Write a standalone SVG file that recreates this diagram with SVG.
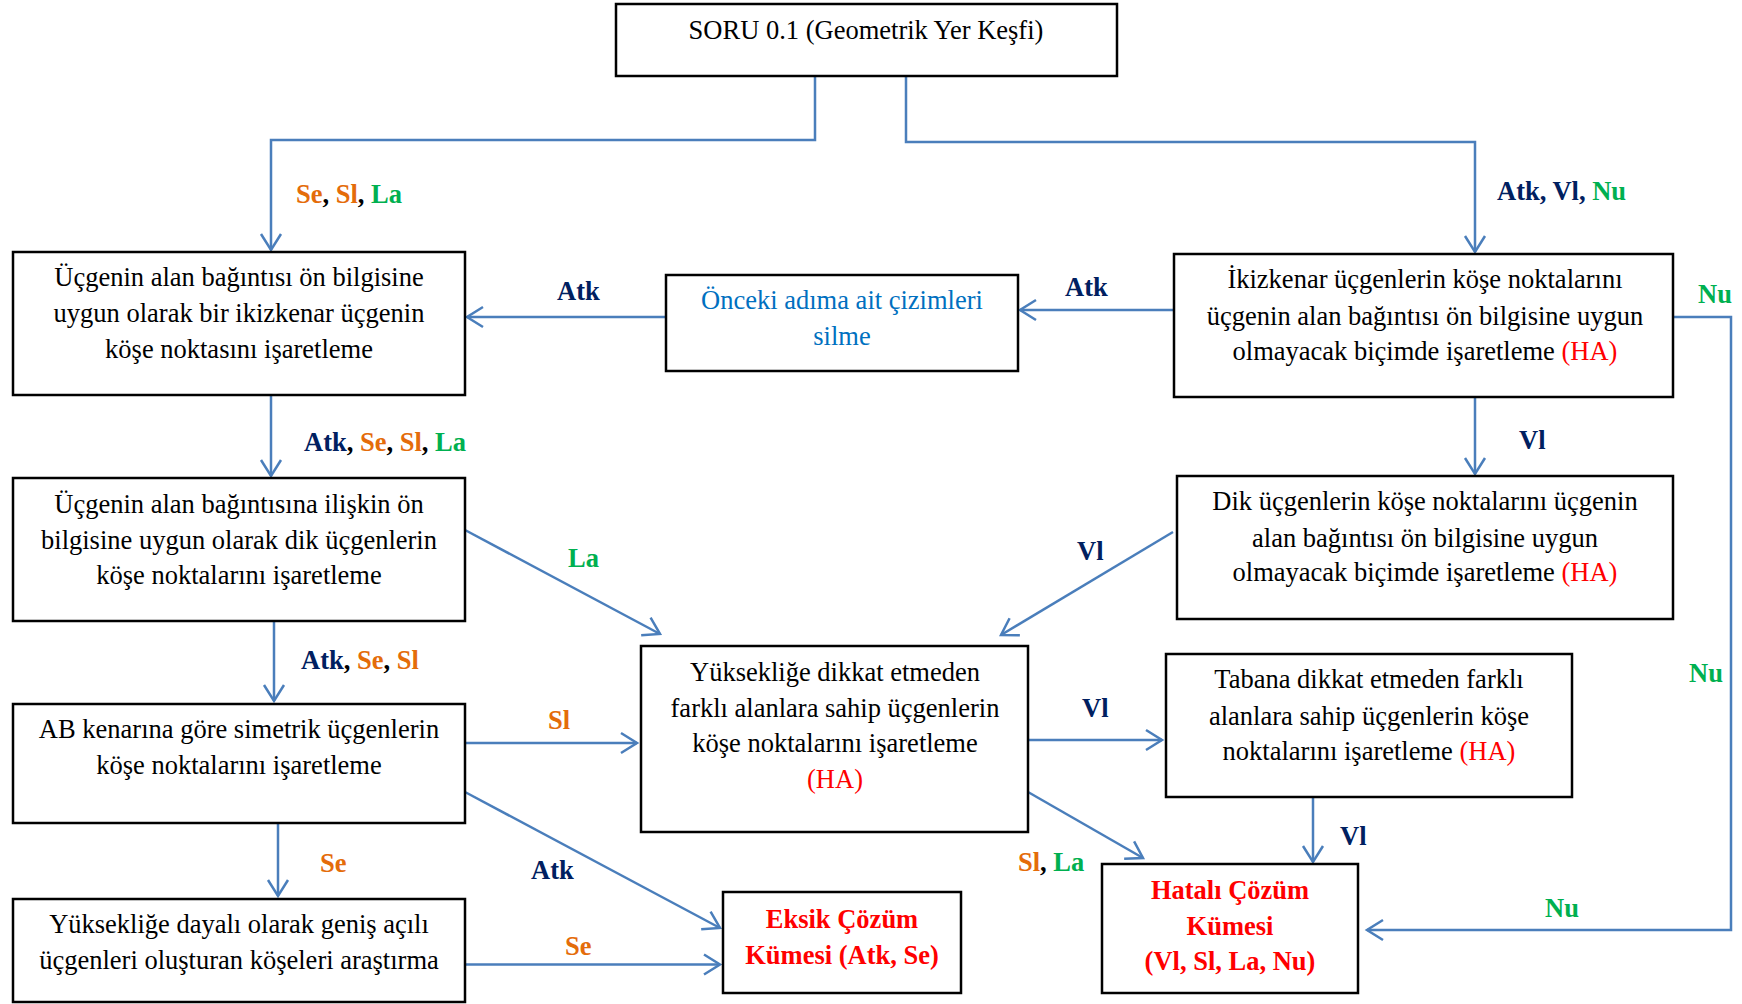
<svg xmlns="http://www.w3.org/2000/svg" width="1742" height="1004" viewBox="0 0 1742 1004">
  <style>
    .box { fill: #ffffff; stroke: #000000; stroke-width: 2.5; }
    .txt { font-family: "Liberation Serif", "Times New Roman", serif; font-size: 26.5px; fill: #000000; text-anchor: middle; }
    .res { font-weight: bold; fill: #ff0000; }
    .lbl { font-family: "Liberation Serif", "Times New Roman", serif; font-size: 26.5px; font-weight: bold; fill: #000000; }
    .navy { fill: #002060; }
    .orange { fill: #e46c0a; }
    .green { fill: #00b050; }
    .red { fill: #ff0000; }
    .blue { fill: #0070c0; }
    .conn { fill: none; stroke: #4a7ebb; stroke-width: 2.5; }
  </style>
  <defs>
    <marker id="arrow" markerUnits="userSpaceOnUse" markerWidth="40" markerHeight="40" viewBox="-20 -20 40 40" refX="0" refY="0" orient="auto">
      <path d="M-16,-10 L0,0 L-16,10" fill="none" stroke="#4a7ebb" stroke-width="2.5" stroke-linejoin="miter"/>
    </marker>
  </defs>

  <rect width="1742" height="1004" fill="#ffffff"/>

  <!-- connectors -->
  <g id="connectors">
    <path class="conn" d="M815,76 V140 H271 V250" marker-end="url(#arrow)"/>
    <path class="conn" d="M906,76 V142 H1475 V252" marker-end="url(#arrow)"/>
    <path class="conn" d="M1174,310 H1020" marker-end="url(#arrow)"/>
    <path class="conn" d="M666,317 H467" marker-end="url(#arrow)"/>
    <path class="conn" d="M1673,317 H1731 V930 H1367" marker-end="url(#arrow)"/>
    <path class="conn" d="M271,395 V476" marker-end="url(#arrow)"/>
    <path class="conn" d="M1475,397 V474" marker-end="url(#arrow)"/>
    <path class="conn" d="M465,530 L660,634" marker-end="url(#arrow)"/>
    <path class="conn" d="M1173,532 L1001,635" marker-end="url(#arrow)"/>
    <path class="conn" d="M274,621 V701" marker-end="url(#arrow)"/>
    <path class="conn" d="M465,743 H637" marker-end="url(#arrow)"/>
    <path class="conn" d="M1028,740 H1162" marker-end="url(#arrow)"/>
    <path class="conn" d="M465,792 L720,928" marker-end="url(#arrow)"/>
    <path class="conn" d="M1028,792 L1143,858" marker-end="url(#arrow)"/>
    <path class="conn" d="M1313,797 V862" marker-end="url(#arrow)"/>
    <path class="conn" d="M278,823 V896" marker-end="url(#arrow)"/>
    <path class="conn" d="M465,964.5 H720" marker-end="url(#arrow)"/>
  </g>

  <!-- connector labels -->
  <g id="labels">
    <text class="lbl" x="296" y="203"><tspan class="orange">Se</tspan>, <tspan class="orange">Sl</tspan>, <tspan class="green">La</tspan></text>
    <text class="lbl" x="1497" y="200"><tspan class="navy">Atk, Vl, </tspan><tspan class="green">Nu</tspan></text>
    <text class="lbl navy" x="557" y="300">Atk</text>
    <text class="lbl navy" x="1065" y="296">Atk</text>
    <text class="lbl green" x="1698" y="303">Nu</text>
    <text class="lbl" x="304" y="451"><tspan class="navy">Atk</tspan>, <tspan class="orange">Se</tspan>, <tspan class="orange">Sl</tspan>, <tspan class="green">La</tspan></text>
    <text class="lbl navy" x="1519" y="449">Vl</text>
    <text class="lbl green" x="568" y="567">La</text>
    <text class="lbl navy" x="1077" y="560">Vl</text>
    <text class="lbl" x="301" y="669"><tspan class="navy">Atk</tspan>, <tspan class="orange">Se</tspan>, <tspan class="orange">Sl</tspan></text>
    <text class="lbl green" x="1689" y="682">Nu</text>
    <text class="lbl navy" x="1082" y="717">Vl</text>
    <text class="lbl orange" x="548" y="729">Sl</text>
    <text class="lbl navy" x="1340" y="845">Vl</text>
    <text class="lbl orange" x="320" y="872">Se</text>
    <text class="lbl" x="1018" y="871"><tspan class="orange">Sl</tspan>, <tspan class="green">La</tspan></text>
    <text class="lbl navy" x="531" y="879">Atk</text>
    <text class="lbl green" x="1545" y="917">Nu</text>
    <text class="lbl orange" x="565" y="955">Se</text>
  </g>

  <!-- nodes -->
  <g id="soru">
    <rect class="box" x="616" y="4" width="501" height="72"/>
    <text class="txt" x="866" y="39">SORU 0.1 (Geometrik Yer Keşfi)</text>
  </g>

  <g id="ikizkenar-dogru">
    <rect class="box" x="13" y="252" width="452" height="143"/>
    <text class="txt" x="239" y="286">Üçgenin alan bağıntısı ön bilgisine</text>
    <text class="txt" x="239" y="322">uygun olarak bir ikizkenar üçgenin</text>
    <text class="txt" x="239" y="358">köşe noktasını işaretleme</text>
  </g>

  <g id="onceki-silme">
    <rect class="box" x="666" y="275" width="352" height="96"/>
    <text class="txt blue" x="842" y="309">Önceki adıma ait çizimleri</text>
    <text class="txt blue" x="842" y="345">silme</text>
  </g>

  <g id="ikizkenar-hatali">
    <rect class="box" x="1174" y="254" width="499" height="143"/>
    <text class="txt" x="1425" y="288">İkizkenar üçgenlerin köşe noktalarını</text>
    <text class="txt" x="1425" y="325">üçgenin alan bağıntısı ön bilgisine uygun</text>
    <text class="txt" x="1425" y="360">olmayacak biçimde işaretleme <tspan class="red">(HA)</tspan></text>
  </g>

  <g id="dik-dogru">
    <rect class="box" x="13" y="478" width="452" height="143"/>
    <text class="txt" x="239" y="513">Üçgenin alan bağıntısına ilişkin ön</text>
    <text class="txt" x="239" y="549">bilgisine uygun olarak dik üçgenlerin</text>
    <text class="txt" x="239" y="584">köşe noktalarını işaretleme</text>
  </g>

  <g id="dik-hatali">
    <rect class="box" x="1177" y="476" width="496" height="143"/>
    <text class="txt" x="1425" y="510">Dik üçgenlerin köşe noktalarını üçgenin</text>
    <text class="txt" x="1425" y="547">alan bağıntısı ön bilgisine uygun</text>
    <text class="txt" x="1425" y="581">olmayacak biçimde işaretleme <tspan class="red">(HA)</tspan></text>
  </g>

  <g id="yukseklik-hatali">
    <rect class="box" x="641" y="646" width="387" height="186"/>
    <text class="txt" x="835" y="681">Yüksekliğe dikkat etmeden</text>
    <text class="txt" x="835" y="717">farklı alanlara sahip üçgenlerin</text>
    <text class="txt" x="835" y="752">köşe noktalarını işaretleme</text>
    <text class="txt red" x="835" y="788">(HA)</text>
  </g>

  <g id="taban-hatali">
    <rect class="box" x="1166" y="654" width="406" height="143"/>
    <text class="txt" x="1369" y="688">Tabana dikkat etmeden farklı</text>
    <text class="txt" x="1369" y="725">alanlara sahip üçgenlerin köşe</text>
    <text class="txt" x="1369" y="760">noktalarını işaretleme <tspan class="red">(HA)</tspan></text>
  </g>

  <g id="simetrik">
    <rect class="box" x="13" y="704" width="452" height="119"/>
    <text class="txt" x="239" y="738">AB kenarına göre simetrik üçgenlerin</text>
    <text class="txt" x="239" y="774">köşe noktalarını işaretleme</text>
  </g>

  <g id="genis-acili">
    <rect class="box" x="13" y="899" width="452" height="103"/>
    <text class="txt" x="239" y="933">Yüksekliğe dayalı olarak geniş açılı</text>
    <text class="txt" x="239" y="969">üçgenleri oluşturan köşeleri araştırma</text>
  </g>

  <g id="eksik-cozum">
    <rect class="box" x="723" y="892" width="238" height="101"/>
    <text class="txt res" x="842" y="928">Eksik Çözüm</text>
    <text class="txt res" x="842" y="964">Kümesi (Atk, Se)</text>
  </g>

  <g id="hatali-cozum">
    <rect class="box" x="1102" y="864" width="256" height="129"/>
    <text class="txt res" x="1230" y="899">Hatalı Çözüm</text>
    <text class="txt res" x="1230" y="935">Kümesi</text>
    <text class="txt res" x="1230" y="970">(Vl, Sl, La, Nu)</text>
  </g>
</svg>
